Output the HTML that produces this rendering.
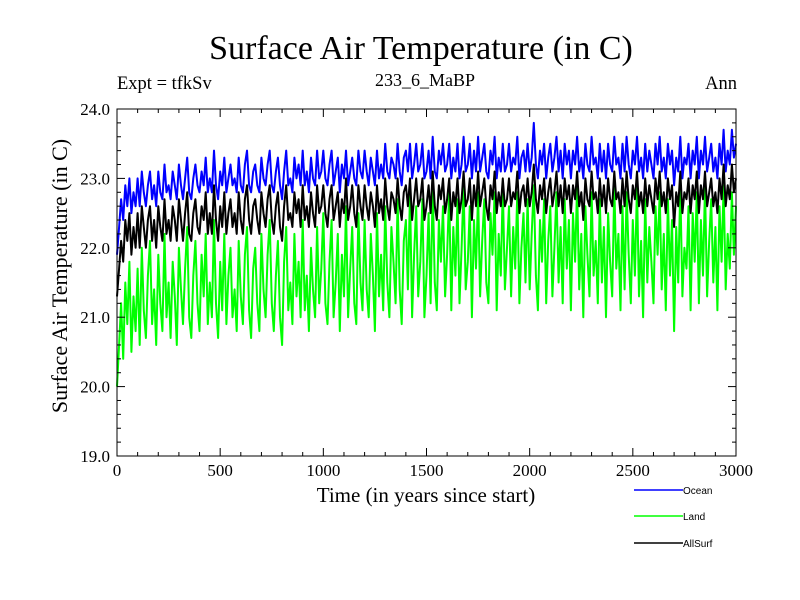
<!DOCTYPE html>
<html><head><meta charset="utf-8"><style>
body{margin:0;background:#fff}
svg{display:block}
.s{font-family:"Liberation Serif",serif;fill:#000}
.h{font-family:"Liberation Sans",sans-serif;fill:#000}
</style></head><body>
<svg id="c" width="800" height="600">
<text class="s" x="421" y="59" font-size="34" text-anchor="middle">Surface Air Temperature (in C)</text>
<text class="s" x="117" y="89" font-size="18.5">Expt = tfkSv</text>
<text class="s" x="425" y="86" font-size="18" text-anchor="middle">233_6_MaBP</text>
<text class="s" x="737" y="89" font-size="18.5" text-anchor="end">Ann</text>
<text class="s" x="426" y="502" font-size="21" text-anchor="middle">Time (in years since start)</text>
<text class="s" transform="translate(67,276) rotate(-90)" font-size="22" text-anchor="middle">Surface Air Temperature (in C)</text>
<g id="plot"></g>
<g id="axes"></g>
<g id="legend"></g>
</svg>
<script>
const years=[];for(let i=0;i<=300;i++)years.push(i*10);
const xTicks=[0,500,1000,1500,2000,2500,3000];
const yTicks=[19.0,20.0,21.0,22.0,23.0,24.0];
const seriesNames=["Ocean","Land","AllSurf"];
const land=[20.0,20.6,21.2,20.4,21.5,20.9,21.8,20.5,21.3,20.8,
21.7,20.6,22.0,21.1,20.7,21.6,22.1,20.9,21.4,20.6,
21.9,21.2,20.8,22.2,21.0,21.5,20.7,21.8,21.3,20.6,
22.0,21.4,20.9,21.7,22.3,21.0,20.7,21.6,22.1,21.2,
20.8,21.9,21.3,22.2,20.9,21.5,21.0,22.4,21.2,20.7,
21.8,21.1,22.2,20.9,21.6,22.0,21.0,21.4,20.8,22.1,
21.3,20.9,21.9,22.3,21.1,20.7,21.7,22.0,21.2,20.8,
22.2,21.4,21.0,21.9,22.4,21.2,20.8,21.6,22.1,21.0,
20.6,21.8,22.3,21.1,21.5,20.9,22.2,21.3,21.8,21.0,
22.4,21.1,21.6,20.8,22.0,21.4,21.0,22.3,21.2,21.7,
22.5,21.2,20.9,21.8,22.4,21.0,21.5,22.2,20.8,21.9,
21.3,22.6,21.0,21.7,22.3,21.2,20.9,22.5,21.5,21.1,
22.4,21.4,21.0,22.2,21.6,20.8,22.5,21.3,21.9,21.1,
22.6,21.5,21.0,22.3,21.8,21.2,22.7,21.4,20.9,22.1,
22.4,21.4,22.8,21.0,21.9,22.6,21.3,21.8,22.7,21.0,
21.6,22.5,21.2,22.9,21.5,21.1,22.4,21.8,22.6,21.3,
21.9,22.8,21.1,22.3,21.6,22.7,21.2,22.0,22.9,21.4,
21.8,22.6,21.0,22.4,21.7,22.8,21.3,22.1,22.7,21.5,
21.2,22.5,21.9,22.8,21.1,22.2,21.6,22.9,21.4,22.0,
22.6,21.3,22.3,21.7,22.8,21.2,22.0,22.5,21.5,22.7,
21.4,22.2,22.9,21.6,21.1,22.4,21.8,22.7,21.2,22.1,
22.6,21.3,22.0,22.8,21.5,22.3,21.2,22.7,21.7,22.4,
21.1,22.5,21.8,22.9,21.4,22.2,21.0,22.6,21.9,21.3,
22.8,21.6,22.1,21.2,22.7,21.5,22.3,21.0,22.5,21.8,
21.3,22.9,21.7,22.2,21.1,22.6,21.4,22.8,21.9,21.2,
22.4,21.6,22.9,21.3,22.1,21.0,22.7,21.5,22.3,21.8,
21.2,22.6,21.9,22.8,21.4,22.2,21.1,22.7,21.6,22.4,
20.8,22.3,21.5,22.9,21.3,22.0,21.7,22.6,21.1,22.5,
21.8,22.8,21.2,22.4,21.6,22.9,21.3,22.1,22.7,21.5,
22.3,21.1,22.6,21.8,22.9,21.4,22.2,21.7,22.8,21.9,22.6];
const ocean=[21.9,22.3,22.7,22.4,22.9,22.6,23.0,22.5,22.8,22.6,
23.0,22.6,23.1,22.8,22.6,22.9,23.1,22.7,22.9,22.6,
23.1,22.8,22.7,23.2,22.8,22.9,22.7,23.1,22.9,22.7,
23.2,22.9,22.7,23.0,23.3,22.8,22.7,23.0,23.2,22.9,
22.8,23.1,22.9,23.3,22.8,23.0,22.8,23.4,22.9,22.7,
23.1,22.9,23.3,22.8,23.0,23.2,22.9,23.0,22.8,23.3,
22.9,22.8,23.2,23.4,22.9,22.8,23.1,23.2,22.9,22.8,
23.3,23.0,22.9,23.2,23.4,22.9,22.8,23.1,23.3,22.9,
22.7,23.1,23.4,22.9,23.0,22.8,23.3,23.0,23.2,22.9,
23.4,22.9,23.1,22.8,23.3,23.0,22.9,23.4,23.0,23.1,
23.4,23.0,22.9,23.2,23.4,22.9,23.1,23.3,22.8,23.2,
23.0,23.4,22.9,23.1,23.3,23.0,22.9,23.4,23.1,23.0,
23.4,23.1,22.9,23.3,23.1,22.9,23.4,23.0,23.2,23.0,
23.5,23.1,23.0,23.3,23.2,23.0,23.5,23.1,22.9,23.3,
23.4,23.1,23.5,23.0,23.2,23.5,23.1,23.2,23.5,23.0,
23.1,23.4,23.0,23.6,23.1,23.0,23.4,23.2,23.5,23.1,
23.2,23.5,23.0,23.3,23.1,23.5,23.0,23.2,23.6,23.1,
23.2,23.5,23.0,23.4,23.1,23.6,23.1,23.3,23.5,23.1,
23.0,23.4,23.2,23.6,23.0,23.3,23.1,23.5,23.1,23.2,
23.5,23.1,23.3,23.2,23.6,23.0,23.3,23.4,23.1,23.5,
23.1,23.3,23.8,23.2,23.0,23.4,23.2,23.5,23.0,23.3,
23.5,23.1,23.3,23.6,23.1,23.4,23.0,23.5,23.2,23.4,
23.0,23.4,23.2,23.6,23.1,23.3,23.0,23.5,23.2,23.1,
23.6,23.2,23.3,23.0,23.5,23.1,23.4,23.0,23.5,23.2,
23.1,23.6,23.2,23.3,23.0,23.5,23.1,23.6,23.2,23.0,
23.4,23.2,23.6,23.1,23.3,23.0,23.5,23.1,23.4,23.2,
23.0,23.5,23.2,23.6,23.1,23.3,23.0,23.5,23.2,23.4,
22.9,23.3,23.1,23.6,23.0,23.3,23.2,23.5,23.0,23.4,
23.2,23.6,23.0,23.4,23.2,23.6,23.1,23.3,23.5,23.1,
23.3,23.0,23.5,23.2,23.7,23.1,23.4,23.2,23.7,23.3,23.5];
const allSurf=[21.3,21.7,22.1,21.8,22.4,22.1,22.5,21.9,22.3,22.0,
22.5,22.0,22.6,22.3,22.0,22.4,22.6,22.1,22.4,22.0,
22.6,22.3,22.1,22.7,22.2,22.4,22.1,22.6,22.4,22.1,
22.7,22.4,22.1,22.5,22.8,22.2,22.1,22.5,22.7,22.3,
22.2,22.6,22.4,22.8,22.2,22.5,22.2,22.9,22.4,22.1,
22.6,22.3,22.8,22.2,22.5,22.7,22.3,22.5,22.2,22.8,
22.4,22.2,22.7,22.9,22.4,22.2,22.6,22.7,22.4,22.2,
22.8,22.5,22.3,22.7,22.9,22.4,22.2,22.6,22.8,22.3,
22.1,22.6,22.9,22.4,22.5,22.3,22.8,22.5,22.7,22.3,
22.9,22.4,22.6,22.3,22.8,22.5,22.3,22.9,22.5,22.6,
22.9,22.5,22.3,22.7,22.9,22.4,22.6,22.8,22.3,22.7,
22.5,23.0,22.4,22.6,22.9,22.5,22.3,22.9,22.6,22.4,
22.9,22.6,22.4,22.8,22.6,22.3,22.9,22.5,22.7,22.4,
23.0,22.6,22.4,22.8,22.7,22.5,23.0,22.6,22.4,22.8,
22.9,22.6,23.0,22.4,22.7,23.0,22.6,22.7,23.0,22.4,
22.6,22.9,22.5,23.1,22.6,22.4,22.9,22.7,23.0,22.5,
22.7,23.0,22.4,22.8,22.6,23.0,22.5,22.7,23.1,22.6,
22.7,23.0,22.4,22.9,22.6,23.1,22.6,22.8,23.0,22.6,
22.4,22.9,22.7,23.1,22.5,22.8,22.6,23.0,22.6,22.7,
23.0,22.6,22.8,22.7,23.1,22.5,22.8,22.9,22.6,23.0,
22.6,22.8,23.2,22.7,22.5,22.9,22.7,23.0,22.5,22.8,
23.0,22.6,22.8,23.1,22.6,22.9,22.5,23.0,22.7,22.9,
22.5,22.9,22.7,23.1,22.6,22.8,22.4,23.0,22.7,22.6,
23.1,22.7,22.8,22.5,23.0,22.6,22.9,22.5,23.0,22.7,
22.6,23.1,22.7,22.8,22.5,23.0,22.6,23.1,22.7,22.5,
22.9,22.7,23.1,22.6,22.8,22.5,23.0,22.6,22.9,22.7,
22.5,23.0,22.7,23.1,22.6,22.8,22.5,23.0,22.7,22.9,
22.3,22.8,22.6,23.1,22.5,22.8,22.7,23.0,22.5,22.9,
22.7,23.1,22.5,22.9,22.7,23.1,22.6,22.8,23.0,22.6,
22.8,22.5,23.0,22.7,23.2,22.6,22.9,22.7,23.2,22.8,23.0];

const NS='http://www.w3.org/2000/svg';
const L=117,R=736,T=109,B=456;
const x=v=>L+(v-0)/(3000-0)*(R-L);
const y=v=>B-(v-19)/(24-19)*(B-T);
function mk(tag,attrs,parent){const e=document.createElementNS(NS,tag);for(const k in attrs)e.setAttribute(k,attrs[k]);parent.appendChild(e);return e;}
const plot=document.getElementById('plot'),axes=document.getElementById('axes'),leg=document.getElementById('legend');
const data=[ocean,land,allSurf],cols=['#0000ff','#00ff00','#000000'];
data.forEach((arr,si)=>{
  const d=arr.map((v,i)=>(i?'L':'M')+x(years[i]).toFixed(1)+' '+y(v).toFixed(1)).join(' ');
  const p=mk('path',{d:d,fill:'none',stroke:cols[si],'stroke-width':2,'stroke-linejoin':'round'},plot);
  
  
});
const f=mk('rect',{x:L,y:T,width:R-L,height:B-T,fill:'none',stroke:'#000','stroke-width':1},axes);


for(let v=0;v<=3000;v+=100){const mj=v%500===0,len=mj?8:4;
  mk('line',{x1:x(v),x2:x(v),y1:B,y2:B-len,stroke:'#000'},axes);
  mk('line',{x1:x(v),x2:x(v),y1:T,y2:T+len,stroke:'#000'},axes);}
for(let k=0;k<=25;k++){const v=19+k*0.2,mj=k%5===0,len=mj?8:4;
  mk('line',{x1:L,x2:L+len,y1:y(v),y2:y(v),stroke:'#000'},axes);
  mk('line',{x1:R,x2:R-len,y1:y(v),y2:y(v),stroke:'#000'},axes);}
xTicks.forEach(v=>{const t=mk('text',{x:x(v),y:B+20,'font-size':17,'text-anchor':'middle',class:'s'},axes);t.textContent=v;
  
  });
yTicks.forEach(v=>{const t=mk('text',{x:L-7,y:y(v)+6,'font-size':17,'text-anchor':'end',class:'s'},axes);t.textContent=v.toFixed(1);
  
  });
[490,516,543].forEach((yy,i)=>{
  const g=mk('g',{},leg);
  
  
  mk('line',{x1:634,x2:683,y1:yy,y2:yy,stroke:cols[i],'stroke-width':1.5},g);
  const t=mk('text',{x:683,y:yy+4,'font-size':10,class:'h'},g);t.textContent=seriesNames[i];
});
</script>
</body></html>
